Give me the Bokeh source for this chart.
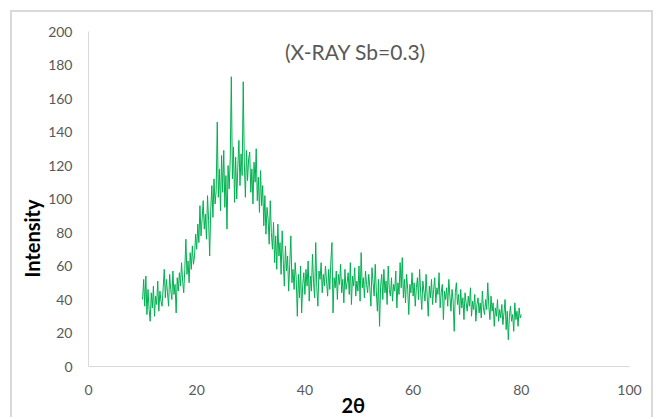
import math
from bokeh.plotting import figure
from bokeh.models import Range1d, FixedTicker, Label, Title
from bokeh.embed import file_html
from bokeh.resources import INLINE

# ---- data ----
x_start = 10.0
x_step = 0.2
intensity = [
    40, 52, 36, 54, 31, 46, 34, 27, 44, 35,      # 10.0 - 11.8
    48, 30, 42, 37, 51, 33, 45, 39, 36, 47,      # 12.0 - 13.8
    58, 41, 52, 44, 36, 55, 46, 40, 57, 43,      # 14.0 - 15.8
    49, 32, 53, 45, 56, 48, 62, 51, 44, 58,      # 16.0 - 17.8
    76, 55, 63, 50, 68, 58, 72, 61, 66, 79,      # 18.0 - 19.8
    70, 85, 74, 96, 78, 88, 99, 82, 91, 76,      # 20.0 - 21.8
    102, 87, 66, 94, 108, 89, 112, 97, 105, 146, # 22.0 - 23.8
    101, 118, 93, 126, 104, 129, 95, 114, 82, 120,   # 24.0 - 25.8
    106, 124, 173, 112, 131, 98, 125, 100, 119, 135, # 26.0 - 27.8
    108, 127, 114, 170, 122, 101, 129, 111, 124, 128, # 28.0 - 29.8
    104, 118, 97, 122, 110, 130, 99, 113, 92, 117,   # 30.0 - 31.8
    96, 108, 84, 102, 79, 95, 88, 73, 99, 80,    # 32.0 - 33.8
    70, 86, 62, 78, 58, 85, 66, 74, 55, 81,      # 34.0 - 35.8
    63, 48, 72, 57, 66, 45, 61, 78, 50, 58,      # 36.0 - 37.8
    46, 62, 52, 30, 55, 41, 60, 32, 49, 56,      # 38.0 - 39.8
    43, 58, 48, 63, 39, 54, 45, 67, 50, 41,      # 40.0 - 41.8
    74, 47, 36, 57, 52, 62, 44, 55, 48, 60,      # 42.0 - 43.8
    51, 42, 58, 46, 63, 74, 32, 53, 47, 57,      # 44.0 - 45.8
    40, 55, 49, 61, 44, 52, 38, 58, 46, 50,      # 46.0 - 47.8
    56, 43, 62, 37, 54, 48, 59, 42, 51, 45,      # 48.0 - 49.8
    60, 39, 68, 47, 53, 41, 57, 49, 44, 55,      # 50.0 - 51.8
    47, 36, 59, 50, 42, 61, 45, 33, 52, 24,      # 52.0 - 53.8
    48, 55, 40, 58, 44, 51, 37, 60, 46, 42,      # 54.0 - 55.8
    53, 39, 49, 45, 57, 35, 50, 43, 62, 47,      # 56.0 - 57.8
    65, 41, 52, 38, 55, 46, 31, 49, 44, 56,      # 58.0 - 59.8
    42, 50, 36, 47, 53, 40, 58, 44, 34, 51,      # 60.0 - 61.8
    45, 39, 55, 42, 30, 48, 41, 52, 37, 46,      # 62.0 - 63.8
    53, 38, 47, 43, 56, 35, 44, 49, 28, 45,      # 64.0 - 65.8
    40, 47, 36, 52, 42, 33, 46, 39, 21, 44,      # 66.0 - 67.8
    50, 37, 43, 31, 46, 35, 41, 28, 44, 38,      # 68.0 - 69.8
    33, 42, 36, 47, 30, 39, 34, 43, 27, 37,      # 70.0 - 71.8
    41, 32, 38, 29, 45, 35, 31, 40, 34, 50,      # 72.0 - 73.8
    36, 28, 42, 33, 38, 24, 35, 30, 40, 27,      # 74.0 - 75.8
    34, 29, 37, 25, 32, 40, 22, 33, 16, 30,      # 76.0 - 77.8
    36, 27, 31, 21, 38, 28, 33, 24, 35, 29,      # 78.0 - 79.8
    31,                                          # 80.0
]
two_theta = [round(x_start + i * x_step, 1) for i in range(len(intensity))]

x_ticks = [0, 20, 40, 60, 80, 100]
y_ticks = [0, 20, 40, 60, 80, 100, 120, 140, 160, 180, 200]

title_text = "(X-RAY Sb=0.3)"
x_title = "2θ"
y_title = "Intensity"

GREEN = "#00B050"
AXIS_GRAY = "#D9D9D9"
TEXT_GRAY = "#595959"
FONT = "Lato"

p = figure(width=643, height=407, output_backend="svg", toolbar_location=None,
           x_range=Range1d(0, 100), y_range=Range1d(0, 200),
           min_border_left=76, min_border_right=26,
           min_border_top=19, min_border_bottom=53)
p.styles = {
    "margin-left": "10px",
    "margin-top": "10px",
    "border-top": "2px solid #D9D9D9",
    "border-left": "2px solid #D9D9D9",
    "border-right": "2px solid #D9D9D9",
}
p.outline_line_color = None
p.grid.visible = False
p.background_fill_color = "white"
p.border_fill_color = "white"

for ax in (p.xaxis[0], p.yaxis[0]):
    ax.axis_line_color = AXIS_GRAY
    ax.axis_line_width = 1
    ax.major_tick_line_color = None
    ax.minor_tick_line_color = None
    ax.major_label_text_color = TEXT_GRAY
    ax.major_label_text_font = FONT
    ax.major_label_text_font_size = "14px"

p.xaxis.ticker = FixedTicker(ticks=x_ticks)
p.yaxis.ticker = FixedTicker(ticks=y_ticks)
p.xaxis.major_label_standoff = 12
p.yaxis.major_label_standoff = 10

p.line(two_theta, intensity, line_color=GREEN, line_width=1)

p.add_layout(Label(x=341, y=37, x_units="canvas", y_units="canvas", text=title_text,
                   text_font=FONT, text_font_size="21px", text_color=TEXT_GRAY,
                   text_align="center", text_baseline="middle"))

p.add_layout(Title(text=x_title, align="left", offset=253, standoff=-10,
                   vertical_align="top",
                   text_font=FONT, text_font_size="20px", text_font_style="bold",
                   text_color="black"), "below")
p.add_layout(Title(text=y_title, align="left", offset=89, standoff=4,
                   text_font=FONT, text_font_size="20px", text_font_style="bold",
                   text_color="black"), "left")

open("out.html", "w").write(file_html(p, INLINE))
